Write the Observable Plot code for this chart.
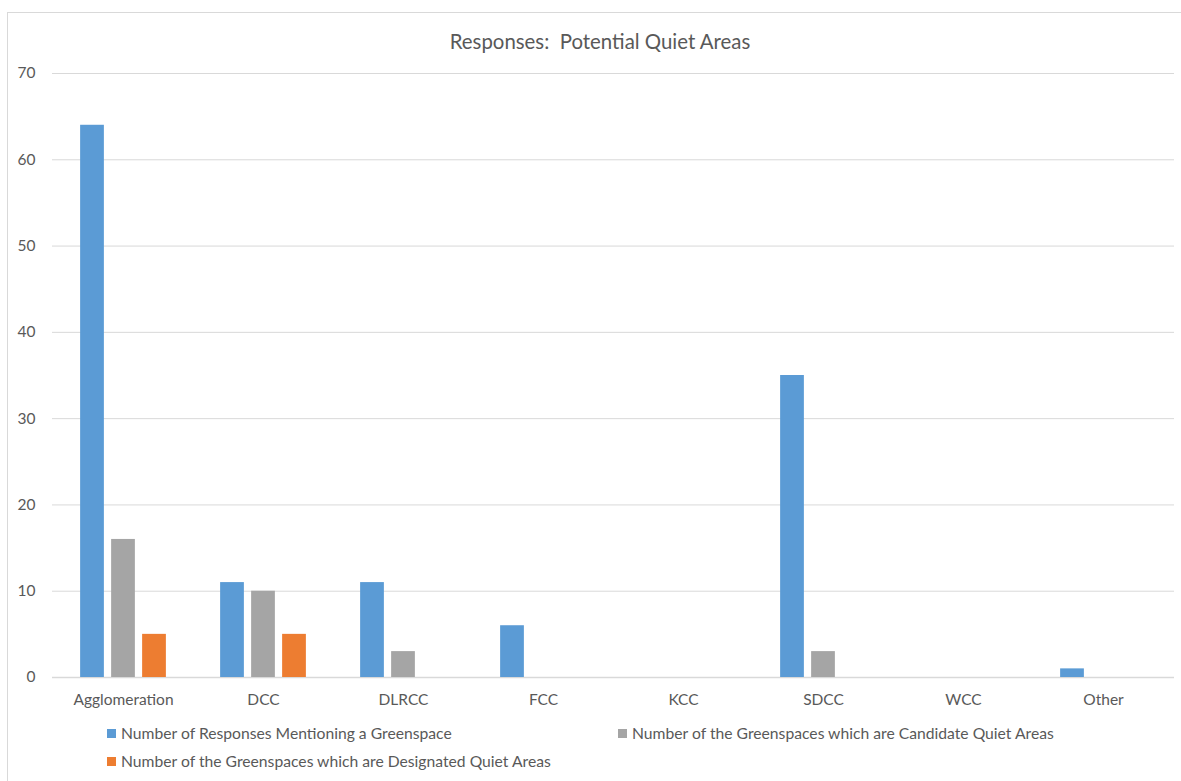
<!DOCTYPE html>
<html>
<head>
<meta charset="utf-8">
<script src="https://cdn.jsdelivr.net/npm/d3@7"></script>
<script src="https://cdn.jsdelivr.net/npm/@observablehq/plot@0.6"></script>
<style>
  html, body { margin: 0; padding: 0; background: #fff; }
  body { width: 1181px; height: 781px; position: relative; overflow: hidden; font-family: Lato, "Open Sans", sans-serif; color: #595959; }
  #frame { position: absolute; left: 7px; top: 12px; width: 1200px; height: 800px; border: 1px solid #d9d9d9; box-sizing: border-box; }
  #title { position: absolute; left: 0; width: 1200px; top: 29px; text-align: center; font-size: 20.4px; white-space: pre; }
  #chart { position: absolute; left: 0; top: 0; }
  .leg { position: absolute; font-size: 15.7px; white-space: nowrap; display: flex; align-items: center; }
  .sw { width: 9px; height: 9px; margin-right: 5px; display: inline-block; }
</style>
</head>
<body>
<div id="frame"></div>
<div id="title">Responses:  Potential Quiet Areas</div>
<div id="chart"></div>
<div class="leg" style="left:107px; top:724px;"><span class="sw" style="background:#5b9bd5"></span>Number of Responses Mentioning a Greenspace</div>
<div class="leg" style="left:618px; top:724px;"><span class="sw" style="background:#a5a5a5"></span>Number of the Greenspaces which are Candidate Quiet Areas</div>
<div class="leg" style="left:107px; top:752px;"><span class="sw" style="background:#ed7d31"></span>Number of the Greenspaces which are Designated Quiet Areas</div>
<script>
const categories = ["Agglomeration", "DCC", "DLRCC", "FCC", "KCC", "SDCC", "WCC", "Other"];
const responses  = [64, 11, 11, 6, 0, 35, 0, 1];
const candidate  = [16, 10, 3, 0, 0, 3, 0, 0];
const designated = [5, 5, 0, 0, 0, 0, 0, 0];
const yTicks = [0, 10, 20, 30, 40, 50, 60, 70];

const series = [
  {name: "Number of Responses Mentioning a Greenspace", values: responses, color: "#5b9bd5", dx: -31},
  {name: "Number of the Greenspaces which are Candidate Quiet Areas", values: candidate, color: "#a5a5a5", dx: 0},
  {name: "Number of the Greenspaces which are Designated Quiet Areas", values: designated, color: "#ed7d31", dx: 31}
];

const bandW = 1122 / categories.length;
const inset = (bandW - 24) / 2;

const marks = [
  Plot.ruleY(yTicks.filter(d => d > 0), {stroke: "#d9d9d9", strokeWidth: 1}),
  Plot.ruleY([0], {stroke: "#d9d9d9", strokeWidth: 1.5}),
  ...series.map(s => Plot.barY(
    categories.map((c, i) => ({category: c, value: s.values[i]})).filter(d => d.value > 0),
    {x: "category", y: "value", fill: s.color, dx: s.dx, insetLeft: inset, insetRight: inset}
  )),
  Plot.axisY({ticks: yTicks, tickSize: 0, tickPadding: 17, label: null, fontSize: 15.5, color: "#595959"}),
  Plot.axisX({tickSize: 0, tickPadding: 16, label: null, fontSize: 15.5, color: "#595959"})
];

const chart = Plot.plot({
  width: 1181,
  height: 720,
  marginLeft: 52,
  marginRight: 7,
  marginTop: 73,
  marginBottom: 43,
  x: {domain: categories, padding: 0},
  y: {domain: [0, 70]},
  style: {fontFamily: "Lato, 'Open Sans', sans-serif", fontSize: "15.5px", color: "#595959", background: "transparent"},
  marks
});
document.getElementById("chart").appendChild(chart);
</script>
</body>
</html>
